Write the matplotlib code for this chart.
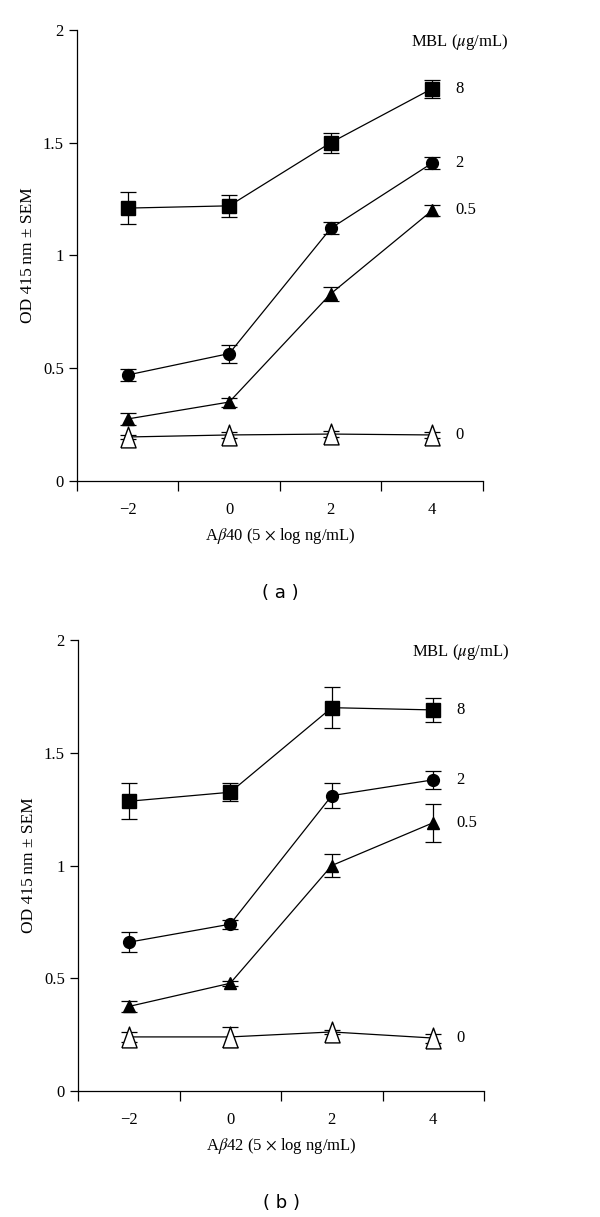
import matplotlib.pyplot as plt
from matplotlib.ticker import FixedLocator

plt.rcParams['font.family'] = ['Liberation Serif', 'DejaVu Serif']
plt.rcParams['mathtext.fontset'] = 'stix'

# x positions (5 x log ng/mL)
x_vals = [-2, 0, 2, 4]
mbl_levels = ['8', '2', '0.5', '0']

# panel (a) Abeta40
a_8 = [1.21, 1.22, 1.50, 1.74]
a_8_err = [0.07, 0.05, 0.045, 0.04]
a_2 = [0.47, 0.565, 1.12, 1.41]
a_2_err = [0.025, 0.04, 0.027, 0.025]
a_05 = [0.275, 0.35, 0.83, 1.20]
a_05_err = [0.025, 0.02, 0.03, 0.025]
a_0 = [0.195, 0.204, 0.208, 0.204]
a_0_err = [0.01, 0.012, 0.012, 0.012]

# panel (b) Abeta42
b_8 = [1.285, 1.325, 1.70, 1.69]
b_8_err = [0.08, 0.04, 0.09, 0.055]
b_2 = [0.66, 0.74, 1.31, 1.38]
b_2_err = [0.045, 0.02, 0.055, 0.04]
b_05 = [0.375, 0.478, 1.00, 1.19]
b_05_err = [0.025, 0.012, 0.05, 0.085]
b_0 = [0.24, 0.24, 0.262, 0.235]
b_0_err = [0.022, 0.045, 0.01, 0.02]

# tall open triangle like the original
tall_tri = [(-0.8, -1.1), (0.8, -1.1), (0, 1.1), (-0.8, -1.1)]

styles = [dict(marker='s', ms=9.5, mfc='black'),
          dict(marker='o', ms=8.5, mfc='black'),
          dict(marker='^', ms=8.5, mfc='black'),
          dict(marker=tall_tri, ms=15, mfc='white')]


def draw_panel(ax, series, errs, xlabel, tag):
    for ys, es, st in zip(series, errs, styles):
        ax.errorbar(x_vals, ys, yerr=es, color='black', mec='black', lw=0.9,
                    elinewidth=0.9, capsize=6, capthick=0.9, **st)
    for ys, lab in zip(series, mbl_levels):
        ax.text(4.45, ys[-1], lab, ha='left', va='center', fontsize=12)
    ax.text(3.58, 1.945, r'MBL ($\mu$g/mL)', ha='left', va='center', fontsize=12)
    ax.set_xlim(-3, 5)
    ax.set_ylim(0, 2)
    ax.set_yticks([0, 0.5, 1, 1.5, 2])
    ax.set_yticklabels(['0', '0.5', '1', '1.5', '2'])
    ax.set_xticks(x_vals)
    ax.set_xticklabels(['\u22122', '0', '2', '4'])
    ax.xaxis.set_minor_locator(FixedLocator([-3, -1, 1, 3, 5]))
    ax.tick_params(axis='x', which='major', length=0, pad=15, labelsize=12)
    ax.tick_params(axis='x', which='minor', length=7, width=0.9, direction='out')
    ax.tick_params(axis='y', length=6, width=0.9, direction='out', labelsize=12)
    ax.spines['top'].set_visible(False)
    ax.spines['right'].set_visible(False)
    ax.spines['left'].set_linewidth(0.9)
    ax.spines['bottom'].set_linewidth(0.9)
    ax.set_ylabel('OD 415\u2009nm \u00b1 SEM', fontsize=12.5, labelpad=5)
    ax.set_xlabel(xlabel, fontsize=12, labelpad=6)
    ax.text(0.5, -0.248, '( ' + tag + ' )', transform=ax.transAxes, ha='center',
            va='center', fontsize=13, family='DejaVu Sans')


fig = plt.figure(figsize=(6, 12.17), dpi=100)
ax1 = fig.add_axes([0.1283, 0.6048, 0.6767, 0.3706])
ax2 = fig.add_axes([0.13, 0.1035, 0.6767, 0.3706])

draw_panel(ax1, [a_8, a_2, a_05, a_0], [a_8_err, a_2_err, a_05_err, a_0_err],
           r'A$\beta$40 (5 $\times$ log ng/mL)', 'a')
draw_panel(ax2, [b_8, b_2, b_05, b_0], [b_8_err, b_2_err, b_05_err, b_0_err],
           r'A$\beta$42 (5 $\times$ log ng/mL)', 'b')

fig.savefig('out.png', dpi=100)
